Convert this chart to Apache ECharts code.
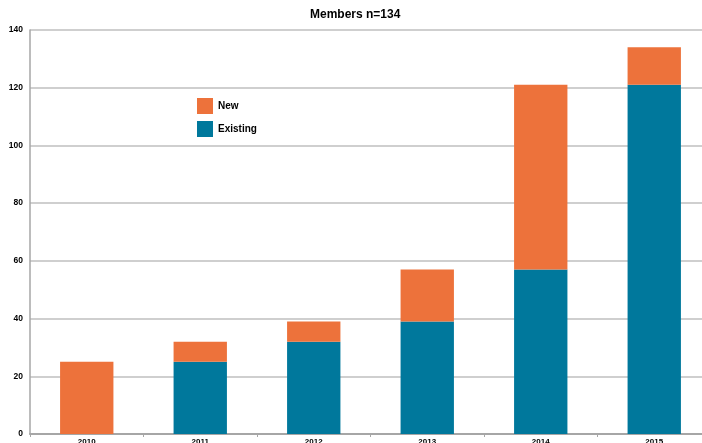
<!DOCTYPE html>
<html>
<head>
<meta charset="utf-8">
<script src="https://cdn.jsdelivr.net/npm/echarts@6/dist/echarts.min.js"></script>
<style>html,body{margin:0;padding:0;background:#fff;overflow:hidden;}#c{width:702px;height:443px;}</style>
</head>
<body>
<div id="c"></div>
<script>
var categories = ['2010', '2011', '2012', '2013', '2014', '2015'];
var existingValues = [0, 25, 32, 39, 57, 121];
var newValues = [25, 7, 7, 18, 64, 13];
var yTicks = [0, 20, 40, 60, 80, 100, 120, 140];

var chart = echarts.init(document.getElementById('c'));
var font = '"Liberation Sans", Arial, sans-serif';
chart.setOption({
  animation: false,
  title: {
    text: 'Members n=134',
    left: 310,
    top: 9,
    padding: 0,
    textStyle: { fontFamily: font, fontSize: 12, fontWeight: 'bold', color: '#000' }
  },
  legend: {
    data: ['New', 'Existing'],
    orient: 'vertical',
    left: 197,
    top: 98,
    padding: 0,
    itemWidth: 16,
    itemHeight: 16,
    itemGap: 7,
    icon: 'rect',
    textStyle: { fontFamily: font, fontSize: 10, fontWeight: 'bold', color: '#000' }
  },
  grid: { left: 30, top: 30, width: 681, height: 404, containLabel: false, outerBoundsMode: 'none' },
  xAxis: {
    type: 'category',
    data: categories,
    axisLine: { lineStyle: { color: '#a6a6a6', width: 2 } },
    axisTick: { show: true, length: 3, lineStyle: { color: '#a6a6a6' } },
    axisLabel: { margin: 4, fontFamily: font, fontSize: 8, fontWeight: 'bold', color: '#000' }
  },
  yAxis: {
    type: 'value',
    min: yTicks[0],
    max: yTicks[yTicks.length - 1],
    interval: 20,
    axisLine: { show: true, lineStyle: { color: '#a6a6a6', width: 1.5 } },
    axisTick: { show: false },
    splitLine: { lineStyle: { color: '#bfbfbf', width: 1.5 } },
    axisLabel: { margin: 7, fontFamily: font, fontSize: 8.5, fontWeight: 'bold', color: '#000' }
  },
  series: [
    {
      name: 'Existing',
      type: 'bar',
      stack: 'm',
      data: existingValues,
      barWidth: '47%',
      itemStyle: { color: '#00789c' }
    },
    {
      name: 'New',
      type: 'bar',
      stack: 'm',
      data: newValues,
      barWidth: '47%',
      itemStyle: { color: '#ed723b' }
    }
  ]
});
</script>
</body>
</html>
